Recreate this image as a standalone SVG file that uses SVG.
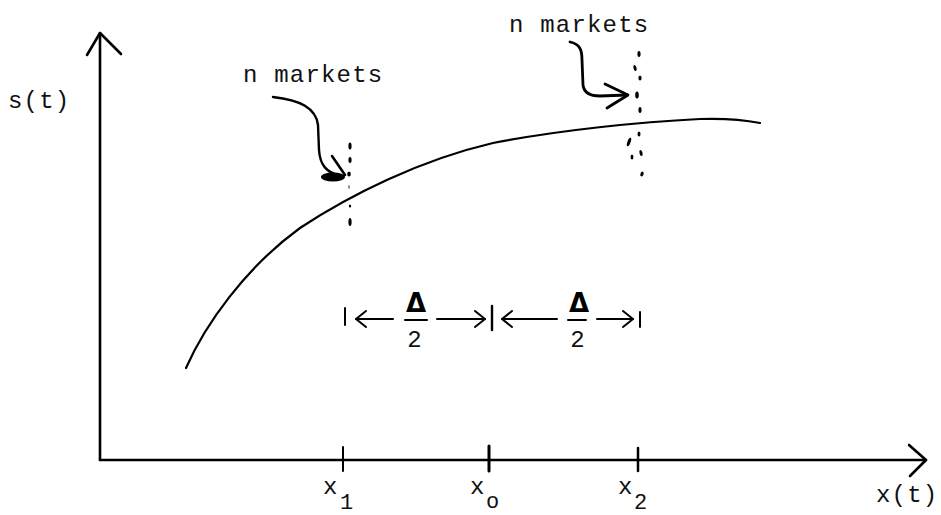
<svg xmlns="http://www.w3.org/2000/svg" width="941" height="515" viewBox="0 0 941 515">
<style>
  .ln { fill: none; stroke: #000; stroke-linecap: round; stroke-linejoin: round; }
  .ax { stroke-width: 2.6; }
  .t { font-family: "Liberation Mono", "Courier New", monospace; font-size: 24px; letter-spacing: 1.2px; fill: #111; }
  .sub { font-size: 22px; letter-spacing: 0; }
  .dot { fill: #000; }
</style>
<defs>
  <marker id="open" viewBox="0 0 12 18" refX="11" refY="9" markerWidth="12" markerHeight="18" markerUnits="userSpaceOnUse" orient="auto">
    <path d="M1,1 L11,9 L1,17" fill="none" stroke="#000" stroke-width="2" stroke-linecap="round" stroke-linejoin="round"/>
  </marker>
</defs>
<rect width="941" height="515" fill="#fff"/>

<g id="axes">
  <line class="ln ax" x1="100" y1="33" x2="100" y2="460"/>
  <polyline class="ln ax" points="87,55 100,33 121,54"/>
  <line class="ln ax" x1="100" y1="460" x2="926" y2="460"/>
  <polyline class="ln ax" points="909,445 926,460 910,476"/>
  <line class="ln" stroke-width="2" x1="343" y1="447" x2="343" y2="471"/>
  <line class="ln" stroke-width="3" x1="489" y1="446" x2="489" y2="471"/>
  <line class="ln" stroke-width="2.5" x1="638" y1="448" x2="638" y2="471"/>
</g>

<g id="axis-labels">
  <text class="t" x="8" y="108">s(t)</text>
  <text class="t" x="876" y="502" font-size="21" letter-spacing="0">x(t)</text>
  <text class="t" x="323" y="494">x</text>
  <text class="t sub" x="340" y="509">1</text>
  <text class="t" x="470" y="494">x</text>
  <text class="t sub" x="486" y="508">o</text>
  <text class="t" x="618" y="494">x</text>
  <text class="t sub" x="634" y="509">2</text>
</g>

<g id="curve">
  <path class="ln" stroke-width="2.2" d="M186,368 C205,325 245,268 300,228 C350,195 420,160 493,143 C560,130 640,122 700,119 C730,118 750,121 760,123"/>
</g>

<g id="markets-1">
  <text class="t" x="243" y="82">n markets</text>
  <g class="dot">
    <ellipse cx="350" cy="146" rx="1.6" ry="3.5"/>
    <ellipse cx="350" cy="160" rx="1.6" ry="3"/>
    <ellipse cx="349" cy="174" rx="1.8" ry="2.5"/>
    <ellipse cx="349" cy="187" rx="1" ry="2" fill="#888"/>
    <ellipse cx="350" cy="206" rx="1.2" ry="1.5"/>
    <ellipse cx="350" cy="222" rx="1.6" ry="4"/>
  </g>
</g>

<g id="markets-2">
  <text class="t" x="509" y="32">n markets</text>
  <g class="dot">
    <ellipse cx="639" cy="54" rx="1.6" ry="3"/>
    <ellipse cx="635" cy="68" rx="1.5" ry="3" transform="rotate(-15 635 68)"/>
    <ellipse cx="640" cy="78" rx="1.6" ry="2.5"/>
    <ellipse cx="637" cy="95" rx="1.8" ry="3.5"/>
    <ellipse cx="640" cy="110" rx="1.6" ry="3"/>
    <ellipse cx="639" cy="134" rx="1.5" ry="2.5"/>
    <ellipse cx="629" cy="142" rx="1.6" ry="4.5" transform="rotate(20 629 142)"/>
    <ellipse cx="641" cy="153" rx="1.5" ry="3" transform="rotate(-15 641 153)"/>
    <ellipse cx="632" cy="157" rx="1.4" ry="2.5"/>
    <ellipse cx="642" cy="174" rx="1.6" ry="2.5" transform="rotate(20 642 174)"/>
  </g>
</g>

<g id="connectors">
  <path class="ln" stroke-width="2.4" d="M273,97 C300,100 316,108 318,125 L319,150 C320,165 326,172 340,176"/>
  <ellipse cx="333" cy="177" rx="12" ry="4.5" fill="#000"/>
  <line class="ln" stroke-width="2.6" x1="332" y1="156" x2="345" y2="175"/>
  <path class="ln" stroke-width="2.8" d="M570,42 C580,44 582,50 582,60 L583,85 C584,93 590,96 600,96 L627,95"/>
  <polyline class="ln" stroke-width="2.8" points="605,84 628,95 607,108"/>
</g>

<g id="delta">
  <line class="ln" stroke-width="2" x1="345" y1="308" x2="345" y2="325"/>
  <line class="ln" stroke-width="2.4" x1="492" y1="306" x2="492" y2="330"/>
  <line class="ln" stroke-width="2" x1="640" y1="312" x2="640" y2="327"/>
  <line class="ln" stroke-width="2" x1="393" y1="319" x2="356" y2="319" marker-end="url(#open)"/>
  <line class="ln" stroke-width="2" x1="437" y1="319" x2="485" y2="319" marker-end="url(#open)"/>
  <line class="ln" stroke-width="2" x1="557" y1="319" x2="502" y2="319" marker-end="url(#open)"/>
  <line class="ln" stroke-width="2" x1="597" y1="319" x2="633" y2="319" marker-end="url(#open)"/>
  <text x="416" y="312" text-anchor="middle" font-family="DejaVu Sans, sans-serif" font-weight="bold" font-size="26">Δ</text>
  <text x="579" y="312" text-anchor="middle" font-family="DejaVu Sans, sans-serif" font-weight="bold" font-size="26">Δ</text>
  <line class="ln" stroke-width="2" x1="405" y1="320" x2="427" y2="320"/>
  <line class="ln" stroke-width="2" x1="568" y1="320" x2="586" y2="320"/>
  <text class="t" x="415" y="347" text-anchor="middle" font-size="25" letter-spacing="0">2</text>
  <text class="t" x="578" y="347" text-anchor="middle" font-size="25" letter-spacing="0">2</text>
</g>
</svg>
